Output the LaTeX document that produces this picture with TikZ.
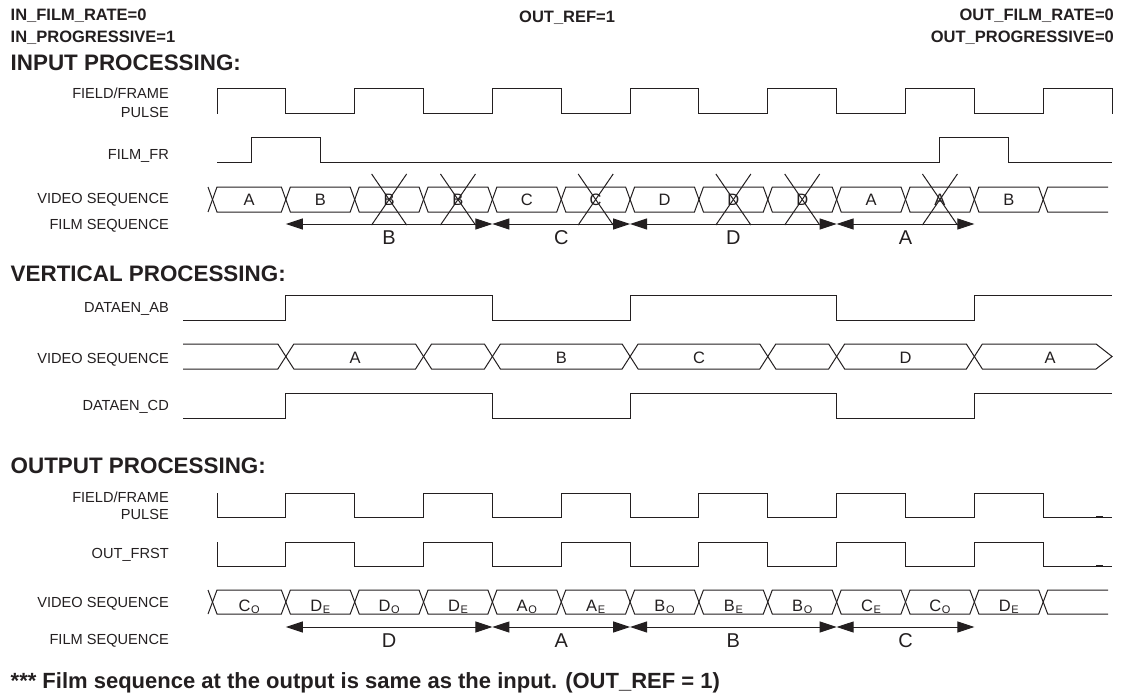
\documentclass[tikz,border=0pt]{standalone}
\usepackage{fontspec}
\setmainfont{Liberation Sans}
\usetikzlibrary{arrows.meta}
\definecolor{ink}{HTML}{231F20}
\newcommand{\tpos}[1]{217+68.85*(#1)}
\newcommand{\fld}[2]{#1\kern0.6pt\raisebox{-1.8pt}{\fontsize{11}{12}\selectfont #2}}
\tikzset{
    wave/.style={draw=ink, line width=1pt},
    siglabel/.style={anchor=base east, inner sep=0pt, text=ink, font=\fontsize{14.6}{16}\selectfont},
    head/.style={anchor=base west, inner sep=0pt, text=ink, font=\bfseries\fontsize{16.5}{18}\selectfont},
    headr/.style={head, anchor=base east},
    sectitle/.style={anchor=base west, inner sep=0pt, text=ink, font=\bfseries\fontsize{22.4}{24}\selectfont},
    notetext/.style={anchor=base west, inner sep=0pt, text=ink, font=\bfseries\fontsize{22}{24}\selectfont},
    buslbl/.style={anchor=base, inner sep=0pt, text=ink, font=\fontsize{16.5}{18}\selectfont},
    filmlbl/.style={anchor=base, inner sep=0pt, text=ink, font=\fontsize{20}{22}\selectfont},
    filmspan/.style={draw=ink, line width=1pt, {Triangle[length=17pt,width=11pt]}-{Triangle[length=17pt,width=11pt]}},
}

\begin{document}
\begin{tikzpicture}[x=1pt, y=-1pt]
\useasboundingbox (0,0) rectangle (1130,698);

%settings
\node[head] (infr) at (10.5,21) {IN\_FILM\_RATE=0};
\node[head] (inpr) at (10.5,42.1) {IN\_PROGRESSIVE=1};
\node[head] (oref) at (519,22.2) {OUT\_REF=1};
\node[headr] (oufr) at (1114,21) {OUT\_FILM\_RATE=0};
\node[headr] (oupr) at (1114,42.1) {OUT\_PROGRESSIVE=0};

%input processing
\node[sectitle] (tinp) at (10.5,70.5) {INPUT PROCESSING:};
\node[siglabel] (iff) at (169,98.9) {FIELD/FRAME};
\node[siglabel] (ipu) at (169,117.3) {PULSE};
\node[siglabel] (ifr) at (169,159.4) {FILM\_FR};
\node[siglabel] (ivs) at (169,203.5) {VIDEO SEQUENCE};
\node[siglabel] (ifs) at (169,229.4) {FILM SEQUENCE};

\draw[wave] (217,114) \foreach \k in {0,2,...,12} {-- ({\tpos{\k}},114) -- ({\tpos{\k}},89) -- ({\tpos{\k+1}},89) -- ({\tpos{\k+1}},114)};
\draw[wave] (217,163) -- ({\tpos{0.5}},163) -- ({\tpos{0.5}},138) -- ({\tpos{1.5}},138) -- ({\tpos{1.5}},163) -- ({\tpos{10.5}},163) -- ({\tpos{10.5}},138) -- ({\tpos{11.5}},138) -- ({\tpos{11.5}},163) -- ({\tpos{13}},163);

\draw[wave] (208,187) -- (212.5,199.5) -- (208,212);
\foreach \k/\txt in {0/A,1/B,2/B,3/B,4/C,5/C,6/D,7/D,8/D,9/A,10/A,11/B} {
    \pgfmathsetmacro\xl{ifthenelse(\k==0,212.5,\tpos{\k})}
    \pgfmathsetmacro\xr{\tpos{\k+1}}
    \draw[wave] (\xl,199.5) -- ({\xl+4.5},187) -- ({\xr-4.5},187) -- (\xr,199.5) -- ({\xr-4.5},212) -- ({\xl+4.5},212) -- cycle;
    \node[buslbl] (iv\k) at ({(\xl+\xr)/2},205.4) {\txt};
}
\draw[wave] (1108,187) -- ({\tpos{12}+4.5},187) -- ({\tpos{12}},199.5) -- ({\tpos{12}+4.5},212) -- (1108,212);

%dropped fields
\foreach \k in {2,3,5,7,8,10} {
    \pgfmathsetmacro\xm{\tpos{\k+0.5}}
    \draw[wave] ({\xm-17.5},174) -- ({\xm+17.5},225);
    \draw[wave] ({\xm+17.5},174) -- ({\xm-17.5},225);
}

\foreach \p/\q/\txt [count=\i] in {1/4/B,4/6/C,6/9/D,9/11/A} {
    \coordinate (ifa\i) at ({\tpos{\p}},224);
    \coordinate (ifb\i) at ({\tpos{\q}},224);
    \draw[filmspan] (ifa\i) -- (ifb\i);
    \node[filmlbl] (ifl\i) at ({\tpos{(\p+\q)/2}},244.6) {\txt};
}

%vertical processing
\node[sectitle] (tver) at (10.5,281.7) {VERTICAL PROCESSING:};
\node[siglabel] (vab) at (169,312.5) {DATAEN\_AB};
\node[siglabel] (vvs) at (169,363.5) {VIDEO SEQUENCE};
\node[siglabel] (vcd) at (169,410.5) {DATAEN\_CD};

\foreach \hi/\lo in {295/320,393/418}
    \draw[wave] (183,\lo) -- ({\tpos{1}},\lo) -- ({\tpos{1}},\hi) -- ({\tpos{4}},\hi) -- ({\tpos{4}},\lo) -- ({\tpos{6}},\lo) -- ({\tpos{6}},\hi) -- ({\tpos{9}},\hi) -- ({\tpos{9}},\lo) -- ({\tpos{11}},\lo) -- ({\tpos{11}},\hi) -- ({\tpos{13}},\hi);

\draw[wave] (183,344) -- ({\tpos{1}-8},344) -- ({\tpos{1}},356.5) -- ({\tpos{1}-8},369) -- (183,369);
\foreach \p/\q in {1/3,3/4,4/6,6/8,8/9,9/11}
    \draw[wave] ({\tpos{\p}},356.5) -- ({\tpos{\p}+8},344) -- ({\tpos{\q}-8},344) -- ({\tpos{\q}},356.5) -- ({\tpos{\q}-8},369) -- ({\tpos{\p}+8},369) -- cycle;
\draw[wave] ({\tpos{11}},356.5) -- ({\tpos{11}+8},344) -- ({\tpos{13}-16},344) -- ({\tpos{13}},356.5) -- ({\tpos{13}-16},369) -- ({\tpos{11}+8},369) -- cycle;
\foreach \x/\txt [count=\i] in {355.2/A,561.3/B,699/C,905.5/D,1050/A}
    \node[buslbl] (vv\i) at (\x,363.9) {\txt};

%output processing
\node[sectitle] (tout) at (10.5,473.5) {OUTPUT PROCESSING:};
\node[siglabel] (off) at (169,502.2) {FIELD/FRAME};
\node[siglabel] (opu) at (169,519.5) {PULSE};
\node[siglabel] (ofr) at (169,558.9) {OUT\_FRST};
\node[siglabel] (ovs) at (169,607.4) {VIDEO SEQUENCE};
\node[siglabel] (ofs) at (169,644.7) {FILM SEQUENCE};

\foreach \hi/\lo in {493/517,542/566} {
    \draw[wave] ({\tpos{0}},\hi) -- ({\tpos{0}},\lo) \foreach \k in {1,3,...,11} {-- ({\tpos{\k}},\lo) -- ({\tpos{\k}},\hi) -- ({\tpos{\k+1}},\hi) -- ({\tpos{\k+1}},\lo)} -- ({\tpos{13}},\lo);
    \draw[ink, line width=2.5pt] (1096,\lo) -- (1103,\lo);
}

\draw[wave] (208,590) -- (212.5,602) -- (208,614);
\foreach \k/\m/\s in {0/C/O,1/D/E,2/D/O,3/D/E,4/A/O,5/A/E,6/B/O,7/B/E,8/B/O,9/C/E,10/C/O,11/D/E} {
    \pgfmathsetmacro\xl{ifthenelse(\k==0,212.5,\tpos{\k})}
    \pgfmathsetmacro\xr{\tpos{\k+1}}
    \draw[wave] (\xl,602) -- ({\xl+4.5},590) -- ({\xr-4.5},590) -- (\xr,602) -- ({\xr-4.5},614) -- ({\xl+4.5},614) -- cycle;
    \node[buslbl] (ov\k) at ({(\xl+\xr)/2},611.5) {\fld{\m}{\s}};
}
\draw[wave] (1108,590) -- ({\tpos{12}+4.5},590) -- ({\tpos{12}},602) -- ({\tpos{12}+4.5},614) -- (1108,614);

\foreach \p/\q/\txt [count=\i] in {1/4/D,4/6/A,6/9/B,9/11/C} {
    \coordinate (ofa\i) at ({\tpos{\p}},627);
    \coordinate (ofb\i) at ({\tpos{\q}},627);
    \draw[filmspan] (ofa\i) -- (ofb\i);
    \node[filmlbl] (ofl\i) at ({\tpos{(\p+\q)/2}},647) {\txt};
}

\node[notetext] (note) at (10.5,688) {*** Film sequence at the output is same as the input. (OUT\_REF = 1)};
\end{tikzpicture}
\end{document}
